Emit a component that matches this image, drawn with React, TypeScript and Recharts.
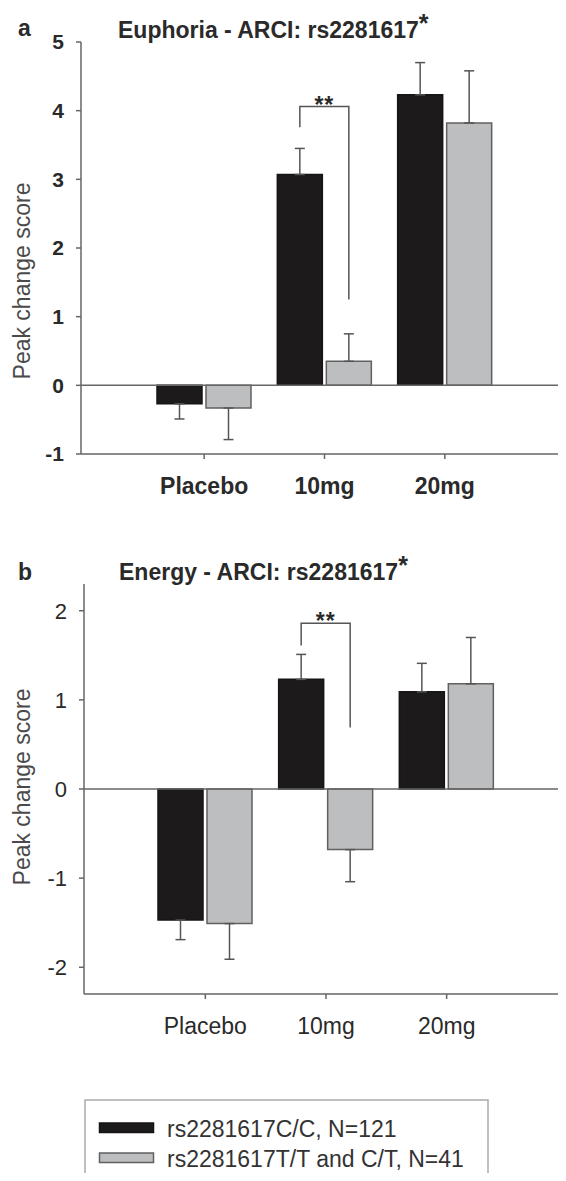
import React from 'react';
import { BarChart, Bar, XAxis, YAxis, ReferenceLine, ErrorBar, Rectangle } from 'recharts';

const doses = ['Placebo', '10mg', '20mg'];
const seriesNames = ['rs2281617C/C, N=121', 'rs2281617T/T and C/T, N=41'];
const seriesFills = ['#1c1a1b', '#bdbec0'];
const seriesStrokes = ['#161415', '#606060'];

// panel a: Euphoria
const euphoriaCC = [-0.27, 3.07, 4.23];
const euphoriaCCErr = [0.22, 0.38, 0.47];
const euphoriaTT = [-0.33, 0.35, 3.82];
const euphoriaTTErr = [0.46, 0.4, 0.76];
const euphoriaTicks = [-1, 0, 1, 2, 3, 4, 5];
// bracket over 10mg: left leg bottom, bracket top, right leg bottom
const euphoriaBracket = [3.76, 4.06, 1.25];

// panel b: Energy
const energyCC = [-1.47, 1.23, 1.09];
const energyCCErr = [0.22, 0.28, 0.32];
const energyTT = [-1.51, -0.68, 1.18];
const energyTTErr = [0.4, 0.36, 0.52];
const energyTicks = [-2, -1, 0, 1, 2];
const energyBracket = [1.61, 1.86, 0.69];

const BAR = 45;
const GAP = 4;
const FONT = '"Liberation Sans", Arial, sans-serif';
const AXIS = '#666';

const oneSided = (v: number, e: number) => (v >= 0 ? [0, e] : [e, 0]);

const buildRows = (cc: number[], ccErr: number[], tt: number[], ttErr: number[]) =>
  doses.map((dose, i) => ({
    dose,
    cc: cc[i],
    tt: tt[i],
    ccErr: oneSided(cc[i], ccErr[i]),
    ttErr: oneSided(tt[i], ttErr[i]),
  }));

const euphoriaRows = buildRows(euphoriaCC, euphoriaCCErr, euphoriaTT, euphoriaTTErr);
const energyRows = buildRows(energyCC, energyCCErr, energyTT, energyTTErr);

// black bar shape; on 10mg it also draws the significance bracket to the grey bar
const bracketShape = (bracket: number[]) => (props: any) => {
  const { x, y, width, height, payload } = props;
  if (payload.dose !== '10mg') return <Rectangle {...props} />;
  const v = payload.cc;
  const ppu = height / v;
  const zeroY = y + height;
  const toY = (d: number) => zeroY - d * ppu;
  const x1 = x + width / 2;
  const x2 = x + width * 1.5 + GAP;
  const top = toY(bracket[1]);
  return (
    <g>
      <Rectangle {...props} />
      <path
        d={`M${x1},${toY(bracket[0])}V${top}H${x2}V${toY(bracket[2])}`}
        stroke="#555"
        strokeWidth={1.5}
        fill="none"
      />
      <text
        x={(x1 + x2) / 2}
        y={top + 6}
        textAnchor="middle"
        fontFamily={FONT}
        fontSize={23}
        fontWeight="bold"
        letterSpacing={1}
        fill="#2a2a2a"
      >
        **
      </text>
    </g>
  );
};

interface PanelProps {
  rows: any[];
  domain: [number, number];
  ticks: number[];
  bracket: number[];
  bold: boolean;
  yFont: number;
  top: number;
  height: number;
  margin: { top: number; right: number; bottom: number; left: number };
  yWidth: number;
  padLeft: number;
  padRight: number;
  labelDy: number;
}

function Panel({ rows, domain, ticks, bracket, bold, yFont, top, height, margin, yWidth, padLeft, padRight, labelDy }: PanelProps) {
  const weight = bold ? 'bold' : 'normal';
  return (
    <div style={{ position: 'absolute', left: 0, top }}>
      <BarChart width={566} height={height} data={rows} margin={margin} barGap={GAP}>
        <XAxis
          dataKey="dose"
          height={40}
          padding={{ left: padLeft, right: padRight }}
          axisLine={{ stroke: AXIS, strokeWidth: 1.5 }}
          tickLine={{ stroke: AXIS, strokeWidth: 1.5 }}
          tickSize={5}
          tickMargin={19}
          tick={{ fill: '#2a2a2a', fontSize: 23, fontFamily: FONT, fontWeight: weight }}
          interval={0}
        />
        <YAxis
          type="number"
          domain={domain}
          ticks={ticks}
          width={yWidth}
          axisLine={{ stroke: AXIS, strokeWidth: 1.5 }}
          tickLine={{ stroke: AXIS, strokeWidth: 1.5 }}
          tickSize={5}
          tickMargin={12}
          tick={{ fill: '#2a2a2a', fontSize: yFont, fontFamily: FONT, fontWeight: weight }}
          allowDataOverflow
          label={{
            content: (p: any) => {
              const vb = p.viewBox;
              const cy = vb.y + vb.height / 2 + labelDy;
              return (
                <text
                  x={22}
                  y={cy}
                  transform={`rotate(-90 22 ${cy})`}
                  textAnchor="middle"
                  dominantBaseline="central"
                  fontFamily={FONT}
                  fontSize={23}
                  fill="#4a4a4a"
                >
                  Peak change score
                </text>
              );
            },
          }}
        />
        <ReferenceLine y={0} stroke={AXIS} strokeWidth={1.5} />
        <Bar
          dataKey="cc"
          name={seriesNames[0]}
          barSize={BAR}
          fill={seriesFills[0]}
          stroke={seriesStrokes[0]}
          strokeWidth={1.5}
          isAnimationActive={false}
          shape={bracketShape(bracket)}
        >
          <ErrorBar dataKey="ccErr" direction="y" width={5} stroke="#555" strokeWidth={1.5} />
        </Bar>
        <Bar
          dataKey="tt"
          name={seriesNames[1]}
          barSize={BAR}
          fill={seriesFills[1]}
          stroke={seriesStrokes[1]}
          strokeWidth={1.5}
          isAnimationActive={false}
        >
          <ErrorBar dataKey="ttErr" direction="y" width={5} stroke="#555" strokeWidth={1.5} />
        </Bar>
      </BarChart>
    </div>
  );
}

export default function App() {
  return (
    <div
      style={{
        position: 'relative',
        width: 566,
        height: 1181,
        margin: -8,
        overflow: 'hidden',
        background: '#fff',
        fontFamily: FONT,
      }}
    >
      <Panel
        rows={euphoriaRows}
        domain={[-1, 5]}
        ticks={euphoriaTicks}
        bracket={euphoriaBracket}
        bold
        yFont={21}
        top={0}
        height={520}
        margin={{ top: 42, right: 0, bottom: 26, left: 0 }}
        yWidth={81}
        padLeft={63}
        padRight={61}
        labelDy={33}
      />
      <Panel
        rows={energyRows}
        domain={[-2.3, 2.3]}
        ticks={energyTicks}
        bracket={energyBracket}
        bold={false}
        yFont={22}
        top={540}
        height={500}
        margin={{ top: 44, right: 0, bottom: 6, left: 0 }}
        yWidth={84}
        padLeft={61}
        padRight={59}
        labelDy={-2}
      />
      <svg
        width={566}
        height={1181}
        style={{ position: 'absolute', left: 0, top: 0, pointerEvents: 'none' }}
        fontFamily={FONT}
      >
        <text x={18} y={36} fontSize={23} fontWeight="bold" fill="#2a2a2a">a</text>
        <text x={118} y={38} fontSize={23} fontWeight="bold" fill="#2a2a2a">
          Euphoria - ARCI: rs2281617<tspan dy={-6} fontSize={25}>*</tspan>
        </text>
        <text x={18} y={580} fontSize={23} fontWeight="bold" fill="#2a2a2a">b</text>
        <text x={119} y={580} fontSize={23} fontWeight="bold" fill="#2a2a2a">
          Energy - ARCI: rs2281617<tspan dy={-6} fontSize={25}>*</tspan>
        </text>
        <rect x={85} y={1100} width={403} height={110} fill="none" stroke="#aaa" strokeWidth={1.5} />
        {seriesNames.map((name, i) => (
          <g key={name}>
            <rect
              x={99.5}
              y={1123 + i * 30}
              width={54}
              height={9.5}
              fill={seriesFills[i]}
              stroke={seriesStrokes[i]}
              strokeWidth={1.5}
            />
            <text x={167} y={1136.5 + i * 30} fontSize={23} fill="#333">
              {name}
            </text>
          </g>
        ))}
      </svg>
    </div>
  );
}
